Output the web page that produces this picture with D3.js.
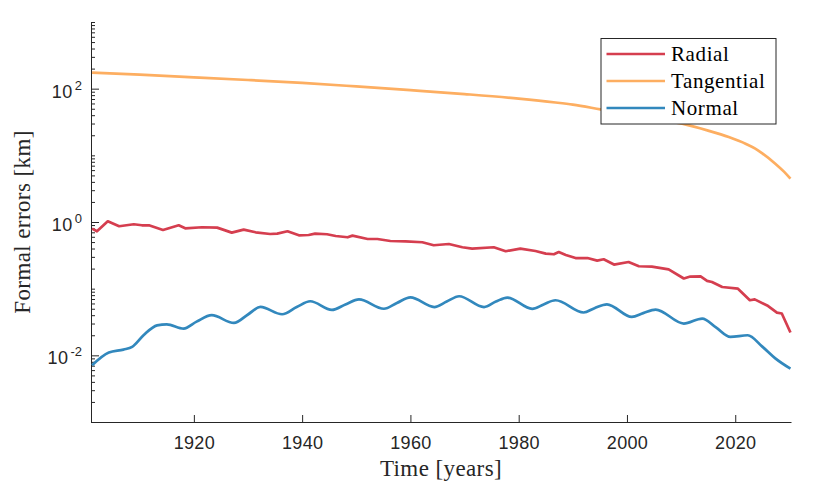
<!DOCTYPE html>
<html>
<head>
<meta charset="utf-8">
<script src="https://cdn.jsdelivr.net/npm/d3@7"></script>
<style>
  body { margin: 0; background: #fff; }
  svg { display: block; }
</style>
</head>
<body>
<svg id="chart" width="830" height="494"></svg>
<script>
// values (years, km)
var radialYears  = [1901.2, 1902.1, 1904.1, 1906.2, 1908.9, 1910.4, 1911.7, 1914.3, 1917.2, 1918.4, 1921.5, 1924.3, 1927.0, 1929.2, 1931.4, 1934.1, 1935.4, 1937.3, 1939.4, 1941.2, 1942.4, 1944.6, 1946.2, 1948.4, 1949.3, 1952.1, 1953.9, 1956.3, 1959.1, 1962.2, 1964.3, 1967.1, 1969.6, 1971.4, 1975.4, 1977.6, 1980.3, 1983.1, 1985.0, 1986.5, 1987.4, 1988.7, 1990.5, 1992.7, 1994.5, 1995.7, 1997.6, 2000.3, 2002.2, 2004.6, 2007.7, 2010.5, 2011.7, 2013.6, 2014.8, 2015.7, 2017.6, 2020.5, 2022.7, 2023.6, 2025.9, 2027.7, 2028.6, 2030.2];
var radialValues = [0.796, 0.726, 1.026, 0.863, 0.925, 0.893, 0.893, 0.759, 0.893, 0.805, 0.834, 0.824, 0.693, 0.769, 0.701, 0.661, 0.670, 0.726, 0.632, 0.638, 0.670, 0.655, 0.617, 0.590, 0.625, 0.556, 0.556, 0.519, 0.513, 0.497, 0.448, 0.468, 0.418, 0.399, 0.418, 0.364, 0.399, 0.367, 0.336, 0.328, 0.355, 0.320, 0.288, 0.288, 0.263, 0.276, 0.230, 0.251, 0.217, 0.214, 0.195, 0.142, 0.152, 0.153, 0.131, 0.126, 0.106, 0.100, 0.067, 0.069, 0.056, 0.0438, 0.0424, 0.022];

var tangentialYears  = [1901.2, 1910, 1920, 1930, 1940, 1950, 1960, 1970, 1980, 1986.8, 1990, 1995.1, 2000, 2005, 2010.2, 2015, 2018.8, 2022, 2023.7, 2025, 2027.4, 2029, 2030.2];
var tangentialValues = [174, 162, 148, 135, 122, 108, 95, 83, 71, 62, 57.5, 49, 42, 35, 29.9, 23.5, 18.8, 14.8, 12.6, 10.7, 7.5, 5.7, 4.47];

var normalYears  = [1901.2, 1904.3, 1907, 1908.6, 1910.7, 1913.2, 1915, 1918.1, 1920.5, 1923.3, 1927.4, 1930, 1932.3, 1936.3, 1939, 1941.5, 1945.5, 1948, 1950.5, 1955.1, 1957.5, 1960, 1964.4, 1966.7, 1969, 1973.6, 1975.8, 1977.9, 1982.5, 1984.6, 1986.8, 1992, 1994, 1996.3, 2000.9, 2003, 2005.3, 2010.5, 2013.9, 2016.5, 2019.1, 2022.3, 2025, 2027.4, 2030.2];
var normalValues = [0.0071, 0.011, 0.0122, 0.0134, 0.020, 0.0282, 0.0292, 0.0252, 0.032, 0.040, 0.0306, 0.041, 0.0532, 0.0413, 0.053, 0.0647, 0.048, 0.058, 0.069, 0.050, 0.061, 0.074, 0.053, 0.064, 0.077, 0.053, 0.064, 0.0736, 0.0497, 0.058, 0.067, 0.0439, 0.051, 0.0583, 0.0377, 0.043, 0.0486, 0.030, 0.0356, 0.026, 0.0189, 0.020, 0.0135, 0.009, 0.0063];

var xTicks = [1920, 1940, 1960, 1980, 2000, 2020];
var yMajorTicks = [1e-2, 1e0, 1e2];
var yLabels = ["-2", "0", "2"];
var seriesNames = ["Radial", "Tangential", "Normal"];

var dimensions = {
    width: 830,
    height: 494,
    margin: { top: 22, bottom: 72, left: 91, right: 39 }
};

var axisColor = "#262626";
var colors = ["#d53e4f", "#fdae61", "#3288bd"];

var svg = d3.select("#chart");

var xScale = d3.scaleLinear()
    .domain([1901.0, 2030.3])
    .range([dimensions.margin.left, dimensions.width - dimensions.margin.right]);

var yScale = d3.scaleLog()
    .domain([1e-3, 1e3])
    .range([dimensions.height - dimensions.margin.bottom, dimensions.margin.top]);

var bottomY = dimensions.height - dimensions.margin.bottom;

// minor log ticks (everything that is not a labelled decade)
var yMinorTicks = [];
for (var e = -3; e < 3; e++) {
    for (var m = 1; m < 10; m++) {
        var v = m * Math.pow(10, e);
        if (yMajorTicks.indexOf(v) < 0) yMinorTicks.push(v);
    }
}
yMinorTicks.push(1e3);

var yMinorAxis = svg.append("g")
    .attr("transform", `translate(${dimensions.margin.left},0)`)
    .call(d3.axisLeft(yScale).tickValues(yMinorTicks).tickSize(-4).tickFormat(""));

var yAxis = svg.append("g")
    .attr("transform", `translate(${dimensions.margin.left},0)`)
    .call(d3.axisLeft(yScale).tickValues(yMajorTicks).tickSizeInner(-8).tickSizeOuter(0).tickFormat(""));

var xAxis = svg.append("g")
    .attr("transform", `translate(0,${bottomY})`)
    .call(d3.axisBottom(xScale).tickValues(xTicks).tickSizeInner(-7).tickSizeOuter(0).tickPadding(14).tickFormat(d3.format("d")));

[yMinorAxis, yAxis, xAxis].forEach(function(g) {
    g.selectAll("path, line").attr("stroke", axisColor).attr("stroke-width", 1);
});
yMinorAxis.select("path").remove();

xAxis.selectAll("text")
    .attr("fill", axisColor)
    .style("font-family", "'Liberation Sans', Arial, sans-serif")
    .style("font-size", "18px")
    .style("letter-spacing", "0.3px");

// y tick labels as 10 with a raised exponent
yMajorTicks.forEach(function(t, i) {
    var label = svg.append("text")
        .attr("x", dimensions.margin.left - 9)
        .attr("y", yScale(t) + 9)
        .attr("text-anchor", "end")
        .attr("fill", axisColor)
        .style("font-family", "'Liberation Sans', Arial, sans-serif")
        .style("font-size", "18px");
    label.append("tspan").text("10").style("letter-spacing", "0.5px");
    label.append("tspan")
        .attr("dx", 2)
        .attr("dy", -8)
        .style("font-size", "13px")
        .text(yLabels[i]);
});

// axis titles
svg.append("text")
    .attr("x", 441)
    .attr("y", 476)
    .attr("text-anchor", "middle")
    .attr("fill", axisColor)
    .style("font-family", "'Liberation Serif', 'Times New Roman', serif")
    .style("font-size", "23px")
    .style("letter-spacing", "0.4px")
    .text("Time [years]");

svg.append("text")
    .attr("transform", `translate(30,${(dimensions.margin.top + bottomY) / 2}) rotate(-90)`)
    .attr("text-anchor", "middle")
    .attr("fill", axisColor)
    .style("font-family", "'Liberation Serif', 'Times New Roman', serif")
    .style("font-size", "23px")
    .style("letter-spacing", "0.4px")
    .text("Formal errors [km]");

// lines
var series = [
    { years: radialYears, values: radialValues, curve: d3.curveLinear },
    { years: tangentialYears, values: tangentialValues, curve: d3.curveMonotoneX },
    { years: normalYears, values: normalValues, curve: d3.curveMonotoneX }
];

series.forEach(function(s, i) {
    var line = d3.line()
        .x(function(d, j) { return xScale(s.years[j]); })
        .y(function(d) { return yScale(d); })
        .curve(s.curve);
    svg.append("path")
        .attr("d", line(s.values))
        .attr("fill", "none")
        .attr("stroke", colors[i])
        .attr("stroke-width", 2.7)
        .attr("stroke-linejoin", "round");
});

// legend
var legendBox = { x: 601, y: 38.5, w: 175, h: 85.5 };
var legend = svg.append("g");
legend.append("rect")
    .attr("x", legendBox.x)
    .attr("y", legendBox.y)
    .attr("width", legendBox.w)
    .attr("height", legendBox.h)
    .attr("fill", "#fff")
    .attr("stroke", axisColor)
    .attr("stroke-width", 1);

seriesNames.forEach(function(name, i) {
    var rowY = 54 + i * 27;
    legend.append("line")
        .attr("x1", 606.5)
        .attr("x2", 665)
        .attr("y1", rowY)
        .attr("y2", rowY)
        .attr("stroke", colors[i])
        .attr("stroke-width", 2.7);
    legend.append("text")
        .attr("x", 671)
        .attr("y", rowY + 7)
        .attr("fill", "#000")
        .style("font-family", "'Liberation Serif', 'Times New Roman', serif")
        .style("font-size", "21px")
        .style("letter-spacing", "0.6px")
        .text(name);
});
</script>
</body>
</html>
